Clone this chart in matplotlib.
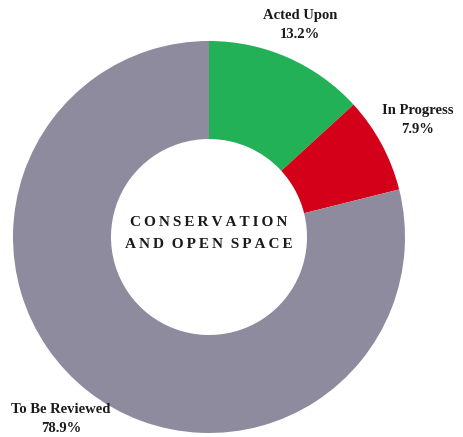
import matplotlib.pyplot as plt

labels = ["Acted Upon", "In Progress", "To Be Reviewed"]
shares = [13.2, 7.9, 78.9]
colors = ["#23b157", "#d40019", "#8f8b9e"]
center_title = ["CONSERVATION", "AND OPEN SPACE"]

W, H = 464, 437
plt.rcParams['font.family'] = ['Liberation Serif', 'DejaVu Serif']

fig = plt.figure(figsize=(W / 100, H / 100), dpi=100)

# donut centre ~ (209, 237) px, outer radius ~196 px
cx, cy, r = 209, 237, 196
ax = fig.add_axes([(cx - r) / W, (H - cy - r) / H, 2 * r / W, 2 * r / H])
ax.pie(shares, colors=colors, startangle=90, counterclock=False,
       radius=1.0, wedgeprops=dict(width=0.5, linewidth=0))
ax.set_xlim(-1, 1)
ax.set_ylim(-1, 1)
ax.set_aspect("equal")
ax.axis("off")

# label positions in pixels (from top-left)
label_pos = [(300, 25), (418, 120), (61, 419)]
for (px, py), lab, val in zip(label_pos, labels, shares):
    fig.text(px / W, 1 - py / H, f"{lab}\n{val}%", ha="center", va="center",
             fontsize=10.5, fontweight="bold", color="#1a1a1a", linespacing=1.55)

# letter-spaced centre title
sp = "\u2009"
for i, line in enumerate(center_title):
    spaced = sp.join(line).replace(sp + " " + sp, "  ")
    fig.text(cx / W, 1 - (222 + 22 * i) / H, spaced, ha="center", va="center",
             fontsize=11, fontweight="bold", color="#1a1a1a")

fig.savefig("out.png", dpi=100)
